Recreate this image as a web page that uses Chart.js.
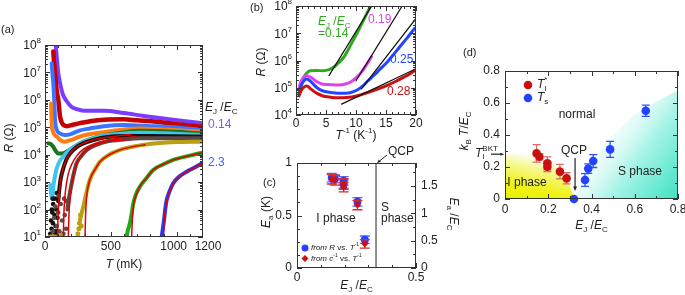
<!DOCTYPE html>
<html>
<head>
<meta charset="utf-8">
<script src="https://cdn.jsdelivr.net/npm/chart.js@4.4.1/dist/chart.umd.min.js"></script>
<style>
  body { margin: 0; background: #fff; width: 685px; height: 295px; overflow: hidden; position: relative; }
  canvas { position: absolute; }
</style>
</head>
<body>
<canvas id="cd" width="245" height="200" style="left:440px;top:40px"></canvas>
<canvas id="ca" width="240" height="295" style="left:0;top:0"></canvas>
<canvas id="cb" width="200" height="145" style="left:240px;top:0"></canvas>
<canvas id="cc" width="225" height="155" style="left:240px;top:140px"></canvas>
<script>
/* ---------- panel (a): R vs T (mK) for each E_J/E_C ---------- */
const aPurple = [[80,1.3e8],[90,3.2e7],[100,1e7],[115,4e6],[135,1.6e6],[165,8.9e5],[200,5.6e5],[250,4.5e5],[300,4e5],[450,4e5],[600,3.3e5],[750,2.6e5],[900,2.1e5],[1050,1.7e5],[1200,1.4e5]];
const aDarkRed = [[63,5.8e7],[70,2e7],[76,9.3e6],[90,2e6],[101,1e6],[114,2.5e5],[130,1.4e5],[165,1.1e5],[220,1.26e5],[342,1.66e5],[450,1.9e5],[595,1.95e5],[700,1.8e5],[848,1.6e5],[1000,1.3e5],[1200,1.05e5]];
const aRoyal = [[51,2.1e7],[56,1e7],[63,4e6],[70,1e6],[76,1.9e5],[90,7.9e4],[114,6e4],[150,5.2e4],[190,5.5e4],[260,7.6e4],[342,9.1e4],[450,1.1e5],[595,1.2e5],[800,1.1e5],[974,1e5],[1200,7.9e4]];
const aOrange = [[46,7.4e5],[51,1.4e5],[60,7.1e4],[75,5.2e4],[89,4.6e4],[120,3.3e4],[152,3e4],[200,3.5e4],[266,4.6e4],[368,5.9e4],[468,6.9e4],[600,8.3e4],[721,9.1e4],[900,8.3e4],[1200,6.9e4]];
const aDarkGreen = [[25,2.6e4],[40,2.5e4],[63,1.95e4],[80,1.4e4],[101,1.1e4],[130,1.1e4],[165,1.3e4],[220,1.9e4],[291,3e4],[380,4.2e4],[468,5.2e4],[600,6.6e4],[721,7.4e4],[900,7.1e4],[1200,6e4]];
const aCyan = [[40,790],[48,320],[55,250],[62,630],[75,1600],[89,3200],[110,5600],[139,8500],[180,1.4e4],[240,2.2e4],[320,3.3e4],[418,4.6e4],[550,5.6e4],[721,6.3e4],[900,6e4],[1200,5.2e4]];
const aBlack = [[100,200],[114,910],[125,1800],[139,3200],[160,6300],[190,1.1e4],[240,1.9e4],[291,2.6e4],[380,3.6e4],[468,4.4e4],[600,4.8e4],[800,4.8e4],[1000,4.7e4],[1200,4.6e4]];
const aBlackNoise = [[40,13],[45,40],[50,20],[52,100],[55,79],[58,250],[60,32],[62,160],[65,10],[68,16],[72,63],[75,250],[78,13],[80,25],[85,100],[88,16],[90,400],[95,50]];
const aBrown = [[170,100],[185,320],[203,910],[220,2200],[240,4900],[280,9500],[317,1.5e4],[400,2.4e4],[468,3e4],[600,3.6e4],[721,4e4],[900,4e4],[1200,4e4]];
const aBrownNoise = [[60,16],[70,50],[80,130],[90,25],[100,79],[105,320],[110,16],[120,160],[125,10],[130,40],[140,13],[145,250],[150,63],[160,20],[165,200]];
const aOlive = [[266,42],[280,79],[291,130],[304,250],[317,450],[335,1000],[355,1800],[385,3200],[418,5600],[480,9500],[570,1.5e4],[700,2.1e4],[848,2.6e4],[1000,2.9e4],[1200,3e4]];
const aOliveNoise = [[40,10],[60,10.5],[85,10],[105,10],[125,11],[250,13],[258,20],[262,32],[270,63],[275,25]];
const aGreen = [[620,10],[630,18],[645,32],[658,71],[671,170],[690,350],[721,690],[770,1400],[822,2800],[900,4500],[974,6500],[1100,9300],[1200,1.2e4]];
const aBlue = [[886,10],[895,20],[904,42],[913,100],[924,220],[945,450],[974,910],[1020,1600],[1076,2400],[1140,3500],[1200,5100]];
const aFit1 = [[94,10],[98,40],[104,160],[112,630],[125,1800],[140,3500],[165,7000],[200,1.3e4],[260,2.2e4],[350,3.3e4],[470,4.3e4],[570,5e4],[650,5.5e4]];
const aFit2 = [[139,10],[143,63],[150,250],[160,710],[177,2000],[203,4500],[240,8900],[291,1.6e4],[380,2.6e4],[468,3.4e4],[600,4.2e4],[690,4.6e4]];
const aFit3 = [[177,10],[182,63],[190,250],[203,910],[220,2200],[240,4900],[280,9500],[317,1.5e4],[400,2.4e4],[468,3e4],[560,3.4e4],[650,3.6e4]];
const aFit4 = [[304,10],[308,63],[317,320],[335,1000],[355,1800],[385,3200],[418,5600],[480,9500],[570,1.5e4],[700,2.1e4],[760,2.3e4]];
const aFit5 = [[658,10],[662,32],[671,130],[690,320],[721,690],[770,1400],[822,2800],[900,4500],[974,6500],[1100,9300],[1200,1.2e4]];
const aFit6 = [[899,10],[904,32],[913,89],[924,200],[945,450],[974,910],[1020,1600],[1076,2400],[1140,3500],[1200,5100]];
const aXTicks = [0, 500, 1000, 1200];
const aXLabels = ['0', '500', '1000', '1200'];
const aYExp = [1, 2, 3, 4, 5, 6, 7, 8];

/* ---------- panel (b): R vs 1/T ---------- */
const bGreen = [[0.5,8.5e4],[0.8,1.3e5],[1.2,2.2e5],[1.7,3.3e5],[2.3,4.2e5],[3.5,4.3e5],[4.5,4.2e5],[5.5,4.6e5],[6.2,5.5e5],[7.0,7.9e5],[7.9,1.26e6],[8.7,2.5e6],[9.55,5.6e6],[10.5,1.4e7],[11.4,3.5e7],[12.3,8.7e7],[12.6,1.1e8]];
const bMagenta = [[0.5,9e4],[0.7,1.4e5],[1.0,2e5],[1.8,2.75e5],[2.5,2.4e5],[3.5,1.66e5],[4.5,1.35e5],[5.7,1.3e5],[7.0,1.26e5],[8.4,1.4e5],[9.3,1.74e5],[10.1,2.4e5],[11.0,4e5],[11.8,7.2e5],[12.6,1.4e6]];
const bBlue = [[0.5,6e4],[0.7,9.3e4],[1.0,1.4e5],[1.8,2.1e5],[2.5,1.66e5],[3.5,1e5],[4.5,7.6e4],[6.2,6.6e4],[7.5,6.3e4],[9.0,6.6e4],[10.2,8.3e4],[11.2,1.2e5],[12.0,1.8e5],[12.9,2.75e5],[14.0,4.8e5],[15.1,8.3e5],[16.2,1.6e6],[17.3,3.2e6],[18.5,6.6e6],[19.8,1.5e7],[20,1.6e7]];
const bRed = [[0.5,5e4],[0.7,6.6e4],[1.0,8.9e4],[1.8,1.15e5],[2.5,8.9e4],[3.5,6.2e4],[4.5,5e4],[5.5,4.6e4],[6.8,4.3e4],[8.5,4.4e4],[10.1,5e4],[12.3,7.1e4],[13.7,9.1e4],[15.1,1.2e5],[16.5,1.66e5],[17.9,2.4e5],[19.2,3.5e5],[20,4.6e5]];
const bLine014 = [[5.5,2.8e5],[12.6,1e8]];
const bLine019 = [[10.0,1.8e5],[17.7,1e8]];
const bLine025 = [[10.9,9.1e4],[20,3.5e7]];
const bLine028 = [[7.6,2.5e4],[20,5e5]];
const bXTicks = [0, 5, 10, 15, 20];
const bYExp = [4, 5, 6, 7, 8];

/* ---------- panel (c): activation energy ---------- */
const cEjEc = [0.146, 0.159, 0.196, 0.196, 0.254, 0.285];
const cEaFromR = [0.86, 0.85, 0.83, 0.80, 0.63, 0.27];
const cEaFromC = [0.845, 0.835, 0.80, 0.77, 0.60, 0.23];
const cErrR = [0.04, 0.04, 0.04, 0.04, 0.04, 0.035];
const cErrC = [0.045, 0.045, 0.05, 0.045, 0.045, 0.04];
const cQcp = 0.332;
const cXTicks = [0, 0.5], cXLabels = ['0', '0.5'];
const cYTicks = [0, 0.5, 1], cYLabels = ['0', '0.5', '1'];
const cY2Ticks = [0, 0.5, 1, 1.5], cY2Labels = ['0', '0.5', '1', '1.5'];

/* ---------- panel (d): phase diagram ---------- */
const dTiX = [0.146, 0.159, 0.196, 0.196, 0.254, 0.285];
const dTiY = [0.285, 0.264, 0.223, 0.202, 0.171, 0.129];
const dTiErr = [0.055, 0.02, 0.04, 0.03, 0.045, 0.035];
const dTsX = [0.319, 0.37, 0.385, 0.408, 0.486, 0.651];
const dTsY = [0, 0.119, 0.19, 0.237, 0.31, 0.552];
const dTsErr = [0, 0.04, 0.03, 0.04, 0.05, 0.035];
const dIPhaseX = [0, 0.05, 0.1, 0.15, 0.2, 0.25, 0.28, 0.3, 0.32];
const dIPhaseY = [0.28, 0.28, 0.28, 0.27, 0.24, 0.18, 0.13, 0.08, 0];
const dSPhaseX = [0.32, 0.34, 0.37, 0.42, 0.5, 0.6, 0.7, 0.8];
const dSPhaseY = [0, 0.06, 0.15, 0.27, 0.4, 0.53, 0.61, 0.68];
const dTiBkt = 0.28;
const dTicks = [0, 0.2, 0.4, 0.6, 0.8], dLabels = ['0', '0.2', '0.4', '0.6', '0.8'];

/* ---------- drawing helpers ---------- */
const FONT = "'Liberation Sans', Arial, sans-serif";
const INK = '#222';
const zip = (xs, ys) => xs.map((x, i) => [x, ys[i]]);

// parts: [text, style]; style letters: i italic, b subscript, p superscript, P superscript without advance
function rich(g, x, y, parts, size, color, align, angle) {
  g.save(); g.translate(x, y); if (angle) g.rotate(angle);
  g.fillStyle = color; g.textBaseline = 'middle'; g.textAlign = 'left';
  const items = parts.map(([t, st = '']) => {
    const small = /[bpP]/.test(st);
    const f = (st.includes('i') ? 'italic ' : '') + (small ? Math.round(size * 0.68) : size) + 'px ' + FONT;
    g.font = f;
    const w = g.measureText(t).width;
    const dy = st.includes('b') ? size * 0.32 : /[pP]/.test(st) ? -size * 0.4 : 0;
    return { t, f, dy, adv: st.includes('P') ? 0 : w };
  });
  const total = items.reduce((s, it) => s + it.adv, 0);
  let cx = align === 'center' ? -total / 2 : align === 'right' ? -total : 0;
  for (const it of items) { g.font = it.f; g.fillText(it.t, cx, it.dy); cx += it.adv; }
  g.restore();
}

function frame(c) {
  const a = c.chartArea, g = c.ctx;
  g.strokeStyle = '#333'; g.lineWidth = 1;
  g.strokeRect(a.left + 0.5, a.top + 0.5, a.right - a.left - 1, a.bottom - a.top - 1);
}
function tickX(c, id, vals, len, top = true) {
  const s = c.scales[id], a = c.chartArea, g = c.ctx;
  g.beginPath();
  for (const v of vals) {
    const p = Math.round(s.getPixelForValue(v)) + 0.5;
    g.moveTo(p, a.bottom); g.lineTo(p, a.bottom - len);
    if (top) { g.moveTo(p, a.top); g.lineTo(p, a.top + len); }
  }
  g.stroke();
}
function tickY(c, id, vals, len, left = true, right = true) {
  const s = c.scales[id], a = c.chartArea, g = c.ctx;
  g.beginPath();
  for (const v of vals) {
    const p = Math.round(s.getPixelForValue(v)) + 0.5;
    if (left) { g.moveTo(a.left, p); g.lineTo(a.left + len, p); }
    if (right) { g.moveTo(a.right, p); g.lineTo(a.right - len, p); }
  }
  g.stroke();
}
function steps(from, to, step) { const r = []; for (let v = from; v <= to + 1e-9; v += step) r.push(+v.toFixed(4)); return r; }
function logMinor(d0, d1) { const r = []; for (let d = d0; d < d1; d++) for (let m = 2; m <= 9; m++) r.push(m * Math.pow(10, d)); return r; }
function arrow(g, x1, y1, x2, y2, head) {
  const ang = Math.atan2(y2 - y1, x2 - x1);
  g.beginPath(); g.moveTo(x1, y1); g.lineTo(x2 - Math.cos(ang) * head * 0.8, y2 - Math.sin(ang) * head * 0.8); g.stroke();
  g.beginPath(); g.moveTo(x2, y2);
  g.lineTo(x2 - head * Math.cos(ang - 0.4), y2 - head * Math.sin(ang - 0.4));
  g.lineTo(x2 - head * Math.cos(ang + 0.4), y2 - head * Math.sin(ang + 0.4));
  g.closePath(); g.fill();
}

const errorBars = {
  id: 'errorBars',
  beforeDatasetDraw(c, args) {
    const ds = c.data.datasets[args.index];
    if (!ds.errY) return;
    const g = c.ctx, xs = c.scales.x, ys = c.scales.y, cap = ds.errCap || 4;
    g.save(); g.strokeStyle = ds.errColor; g.lineWidth = 1.3;
    ds.data.forEach(([x, y], i) => {
      const e = ds.errY[i]; if (!e) return;
      const px = xs.getPixelForValue(x), p1 = ys.getPixelForValue(y - e), p2 = ys.getPixelForValue(y + e);
      g.beginPath();
      g.moveTo(px, p1); g.lineTo(px, p2);
      g.moveTo(px - cap, p1); g.lineTo(px + cap, p1);
      g.moveTo(px - cap, p2); g.lineTo(px + cap, p2);
      g.stroke();
    });
    g.restore();
  }
};

const line = (data, color, w) => ({ data, showLine: true, borderColor: color, borderWidth: w, pointRadius: 0, cubicInterpolationMode: 'monotone', borderCapStyle: 'round', fill: false });
const dots = (data, color, r) => ({ data, showLine: false, pointRadius: r, pointBackgroundColor: color, pointBorderWidth: 0 });
const base = (pad, scales) => ({
  responsive: false, animation: false, layout: { padding: pad }, scales,
  plugins: { legend: { display: false }, tooltip: { enabled: false } }
});

/* ---------- (a) ---------- */
const FIT = '#e00000';
new Chart(document.getElementById('ca'), {
  type: 'scatter',
  data: { datasets: [
    line(aFit1, FIT, 1.5), line(aFit2, FIT, 1.5), line(aFit3, FIT, 1.5),
    line(aFit4, FIT, 1.5), line(aFit5, FIT, 1.5), line(aFit6, FIT, 1.5),
    line(aBlue, '#2438ff', 4), line(aGreen, '#22a818', 4),
    dots(aOliveNoise, '#b8a010', 2.5), line(aOlive, '#b8a010', 4),
    dots(aBrownNoise, '#5e4a44', 2.3), line(aBrown, '#5e4a44', 4),
    dots(aBlackNoise, '#111', 2.3), line(aBlack, '#111', 4),
    line(aCyan, '#40c4f0', 4), line(aDarkGreen, '#19761a', 4),
    line(aOrange, '#ff7c12', 4), line(aRoyal, '#3a74ff', 4),
    line(aDarkRed, '#c40000', 4.5), line(aPurple, '#7a3cff', 4)
  ] },
  options: base({ left: 45, top: 45, right: 37, bottom: 58 }, {
    x: { type: 'linear', min: 0, max: 1200, display: false },
    y: { type: 'logarithmic', min: 10, max: 1e8, display: false }
  }),
  plugins: [{
    id: 'decoA',
    afterDraw(c) {
      const g = c.ctx, a = c.chartArea, xs = c.scales.x, ys = c.scales.y;
      const nudge = [0, 0, -3, 5];
      g.save();
      frame(c);
      tickX(c, 'x', [0, 500, 1000], 5); tickX(c, 'x', steps(100, 1100, 100), 3);
      tickY(c, 'y', aYExp.map(e => Math.pow(10, e)), 5); tickY(c, 'y', logMinor(1, 8), 3);
      aYExp.forEach(e => rich(g, a.left - 4, ys.getPixelForValue(Math.pow(10, e)) + 1, [['10'], [String(e), 'p']], 12, INK, 'right'));
      aXTicks.forEach((v, i) => rich(g, xs.getPixelForValue(v) + nudge[i], a.bottom + 10, [[aXLabels[i]]], 12, INK, 'center'));
      rich(g, (a.left + a.right) / 2, 265, [['T', 'i'], [' (mK)']], 12, INK, 'center');
      rich(g, 10, 138, [['R', 'i'], [' (Ω)']], 12, INK, 'center', -Math.PI / 2);
      rich(g, 1, 30, [['(a)']], 11, INK, 'left');
      rich(g, 205, 108, [['E', 'i'], ['J', 'b'], [' /'], ['E', 'i'], ['C', 'b']], 12, INK, 'left');
      rich(g, 208, 125, [['0.14']], 12, '#9050f4', 'left');
      rich(g, 208, 163, [['2.3']], 12, '#4060ff', 'left');
      g.restore();
    }
  }]
});

/* ---------- (b) ---------- */
new Chart(document.getElementById('cb'), {
  type: 'scatter',
  data: { datasets: [
    line(bLine014, '#111', 1.2), line(bLine019, '#111', 1.2), line(bLine025, '#111', 1.2), line(bLine028, '#111', 1.2),
    line(bRed, '#cc1010', 3), line(bBlue, '#2444ff', 3), line(bMagenta, '#e040ee', 3), line(bGreen, '#30a820', 3)
  ] },
  options: base({ left: 56, top: 6, right: 24, bottom: 30 }, {
    x: { type: 'linear', min: 0, max: 20, display: false },
    y: { type: 'logarithmic', min: 1e4, max: 1e8, display: false }
  }),
  plugins: [{
    id: 'decoB',
    afterDraw(c) {
      const g = c.ctx, a = c.chartArea, xs = c.scales.x, ys = c.scales.y;
      g.save();
      frame(c);
      tickX(c, 'x', bXTicks, 5); tickX(c, 'x', steps(1, 19, 1), 3);
      tickY(c, 'y', bYExp.map(e => Math.pow(10, e)), 5); tickY(c, 'y', logMinor(4, 8), 3);
      bYExp.forEach(e => rich(g, a.left - 4, ys.getPixelForValue(Math.pow(10, e)) + 1, [['10'], [String(e), 'p']], 12, INK, 'right'));
      bXTicks.forEach(v => rich(g, xs.getPixelForValue(v), a.bottom + 9, [[String(v)]], 12, INK, 'center'));
      rich(g, (a.left + a.right) / 2, 136, [['T', 'i'], ['-1', 'p'], [' (K'], ['-1', 'p'], [')']], 12, INK, 'center');
      rich(g, 22, 62, [['R', 'i'], [' (Ω)']], 12, INK, 'center', -Math.PI / 2);
      rich(g, 10, 8, [['(b)']], 11, INK, 'left');
      rich(g, 78, 22, [['E', 'i'], ['J', 'b'], [' /'], ['E', 'i'], ['C', 'b']], 12, '#30a820', 'left');
      rich(g, 78, 34, [['=0.14']], 12, '#30a820', 'left');
      rich(g, 128, 20, [['0.19']], 12, '#e040ee', 'left');
      rich(g, 150, 60, [['0.25']], 12, '#2444ff', 'left');
      rich(g, 147, 92, [['0.28']], 12, '#cc1010', 'left');
      g.restore();
    }
  }]
});

/* ---------- (c) ---------- */
new Chart(document.getElementById('cc'), {
  type: 'scatter',
  data: { datasets: [
    { data: zip(cEjEc, cEaFromC), pointStyle: 'rectRot', pointRadius: 3.6, pointBackgroundColor: '#d01010', pointBorderWidth: 0,
      errY: cErrC, errColor: '#e02828', errCap: 5 },
    { data: zip(cEjEc, cEaFromR), pointStyle: 'circle', pointRadius: 4, pointBackgroundColor: '#2a40ff', pointBorderWidth: 0,
      errY: cErrR, errColor: '#5068ff', errCap: 5 },
    { data: [[cQcp, 0], [cQcp, 1]], showLine: true, borderColor: '#222', borderWidth: 1, pointRadius: 0 }
  ] },
  options: base({ left: 57, top: 23, right: 49, bottom: 27 }, {
    x: { type: 'linear', min: 0, max: 0.5, display: false },
    y: { type: 'linear', min: 0, max: 1, display: false },
    y2: { type: 'linear', min: 0, max: 1.92, display: false }
  }),
  plugins: [errorBars, {
    id: 'decoC',
    afterDraw(c) {
      const g = c.ctx, a = c.chartArea, xs = c.scales.x, ys = c.scales.y, y2 = c.scales.y2;
      g.save();
      frame(c);
      tickX(c, 'x', cXTicks, 5); tickX(c, 'x', steps(0.1, 0.4, 0.1), 3);
      tickY(c, 'y', cYTicks, 5, true, false); tickY(c, 'y', steps(0.125, 0.875, 0.125), 3, true, false);
      tickY(c, 'y2', cY2Ticks, 5, false, true); tickY(c, 'y2', steps(0.25, 1.75, 0.5), 3, false, true);
      cYTicks.forEach((v, i) => rich(g, a.left - 5, ys.getPixelForValue(v), [[cYLabels[i]]], 12, INK, 'right'));
      cY2Ticks.forEach((v, i) => rich(g, a.right + 5, y2.getPixelForValue(v), [[cY2Labels[i]]], 12, INK, 'left'));
      cXTicks.forEach((v, i) => rich(g, xs.getPixelForValue(v), a.bottom + 10, [[cXLabels[i]]], 12, INK, 'center'));
      rich(g, (a.left + a.right) / 2, 146, [['E', 'i'], ['J', 'b'], [' /'], ['E', 'i'], ['C', 'b']], 12, INK, 'center');
      rich(g, 27, 72, [['E', 'i'], ['a', 'b'], [' (K)']], 12, INK, 'center', -Math.PI / 2);
      rich(g, 213, 74, [['E', 'i'], ['a', 'b'], [' /'], ['E', 'i'], ['C', 'b']], 12, INK, 'center', Math.PI / 2);
      rich(g, 23, 43, [['(c)']], 11, INK, 'left');
      rich(g, 96, 79, [['I phase']], 12, INK, 'center');
      rich(g, 141, 68, [['S']], 12, INK, 'left');
      rich(g, 141, 79, [['phase']], 12, INK, 'left');
      rich(g, 148, 12, [['QCP']], 12, INK, 'left');
      g.strokeStyle = INK; g.fillStyle = INK; g.lineWidth = 1;
      arrow(g, 147, 15, xs.getPixelForValue(cQcp) + 1, a.top, 4);
      g.fillStyle = '#2a40ff'; g.beginPath(); g.arc(65, 108, 3.5, 0, Math.PI * 2); g.fill();
      g.fillStyle = '#d01010'; g.beginPath(); g.moveTo(65, 115); g.lineTo(68.5, 118.5); g.lineTo(65, 122); g.lineTo(61.5, 118.5); g.closePath(); g.fill();
      rich(g, 71, 108, [['from ', 'i'], ['R', 'i'], [' vs. '], ['T', 'i'], ['-1', 'p']], 8, INK, 'left');
      rich(g, 71, 119, [['from ', 'i'], ['c', 'i'], ['-1', 'p'], [' vs. '], ['T', 'i'], ['-1', 'p']], 8, INK, 'left');
      g.restore();
    }
  }]
});

/* ---------- (d) ---------- */
function yellowFill(ctx) {
  const { chart } = ctx, a = chart.chartArea;
  if (!a) return 'rgba(0,0,0,0)';
  const ys = chart.scales.y;
  const gr = chart.ctx.createLinearGradient(a.left, a.bottom, a.left + 10, ys.getPixelForValue(0.29));
  gr.addColorStop(0, '#eaf000'); gr.addColorStop(0.35, '#eef218'); gr.addColorStop(0.75, '#f6f88c'); gr.addColorStop(1, '#fdfdf0');
  return gr;
}
function cyanFill(ctx) {
  const { chart } = ctx, a = chart.chartArea;
  if (!a) return 'rgba(0,0,0,0)';
  const xs = chart.scales.x, ys = chart.scales.y;
  const gr = chart.ctx.createLinearGradient(a.right, a.bottom, xs.getPixelForValue(0.38), ys.getPixelForValue(0.42));
  gr.addColorStop(0, '#3ee2c2'); gr.addColorStop(0.5, '#a8f4e8'); gr.addColorStop(1, 'rgba(255,255,255,0)');
  return gr;
}
new Chart(document.getElementById('cd'), {
  type: 'scatter',
  data: { datasets: [
    { data: zip(dTsX, dTsY), pointRadius: 4.3, pointBackgroundColor: '#2244ff', pointBorderWidth: 0, clip: 6,
      errY: dTsErr, errColor: '#3050ff', errCap: 4 },
    { data: zip(dTiX, dTiY), pointRadius: 4.3, pointBackgroundColor: '#c81010', pointBorderWidth: 0,
      errY: dTiErr, errColor: '#e06a6a', errCap: 4 },
    { data: zip(dIPhaseX, dIPhaseY), showLine: true, borderWidth: 0, pointRadius: 0, fill: 'origin', backgroundColor: yellowFill, cubicInterpolationMode: 'monotone' },
    { data: [[0.32, 0], ...zip(dSPhaseX, dSPhaseY).slice(1), [0.8, 0]], showLine: true, borderWidth: 0, pointRadius: 0, fill: 'origin', backgroundColor: cyanFill }
  ] },
  options: base({ left: 65, top: 31, right: 7, bottom: 41 }, {
    x: { type: 'linear', min: 0, max: 0.8, display: false },
    y: { type: 'linear', min: 0, max: 0.8, display: false }
  }),
  plugins: [errorBars, {
    id: 'decoD',
    afterDraw(c) {
      const g = c.ctx, a = c.chartArea, xs = c.scales.x, ys = c.scales.y;
      g.save();
      frame(c);
      tickX(c, 'x', dTicks, 5); tickX(c, 'x', steps(0.1, 0.7, 0.2), 3);
      tickY(c, 'y', dTicks, 5); tickY(c, 'y', steps(0.1, 0.7, 0.2), 3);
      dTicks.forEach((v, i) => rich(g, a.left - 5, ys.getPixelForValue(v), [[dLabels[i]]], 12, INK, 'right'));
      dTicks.forEach((v, i) => rich(g, xs.getPixelForValue(v), a.bottom + 11, [[dLabels[i]]], 12, INK, 'center'));
      rich(g, (a.left + a.right) / 2, 186, [['E', 'i'], ['J', 'b'], [' /'], ['E', 'i'], ['C', 'b']], 12, INK, 'center');
      rich(g, 25, 91, [['k', 'i'], ['B', 'b'], [' T', 'i'], ['/'], ['E', 'i'], ['C', 'b']], 12, INK, 'center', -Math.PI / 2);
      rich(g, 23, 13, [['(d)']], 11, INK, 'left');
      rich(g, 137, 75, [['normal']], 12, INK, 'center');
      rich(g, 87, 143, [['I phase']], 12, INK, 'center');
      rich(g, 200, 132, [['S phase']], 12, INK, 'center');
      rich(g, 134, 111, [['QCP']], 12, INK, 'center');
      g.strokeStyle = INK; g.fillStyle = INK; g.lineWidth = 1.2;
      arrow(g, xs.getPixelForValue(0.324), 118, xs.getPixelForValue(0.324), ys.getPixelForValue(0.05), 5);
      const yb = ys.getPixelForValue(dTiBkt);
      rich(g, 35, yb - 1, [['T', 'i'], ['BKT', 'P'], ['I', 'b']], 12, INK, 'left');
      arrow(g, 51, yb, a.left - 1, yb, 4);
      g.fillStyle = '#c81010'; g.beginPath(); g.arc(88, 45, 4.3, 0, Math.PI * 2); g.fill();
      g.fillStyle = '#2244ff'; g.beginPath(); g.arc(88, 58, 4.3, 0, Math.PI * 2); g.fill();
      rich(g, 97, 45, [['T', 'i'], ['*', 'P'], ['I', 'b']], 12, INK, 'left');
      rich(g, 97, 58, [['T', 'i'], ['s', 'b']], 12, INK, 'left');
      g.restore();
    }
  }]
});
</script>
</body>
</html>
